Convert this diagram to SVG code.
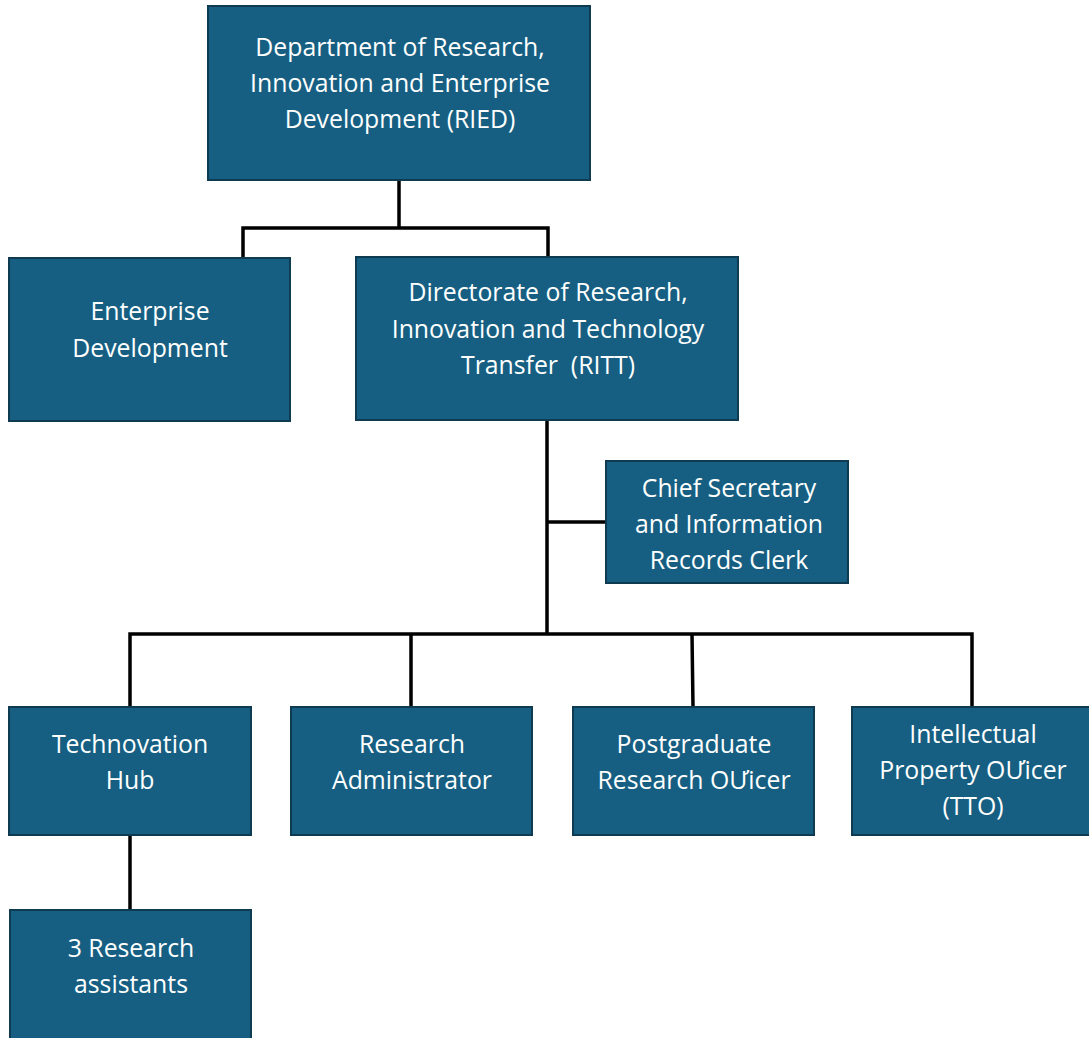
<svg xmlns="http://www.w3.org/2000/svg" width="1089" height="1038" viewBox="0 0 1089 1038">
<style>
.box{fill:#175f82;stroke:#0e3a52;stroke-width:2}
.t{font-family:"Open Sans",Lato,sans-serif;font-size:24.8px;fill:#ffffff;text-anchor:middle;white-space:pre}
.c{stroke:#000;stroke-width:3.5;fill:none}
</style>
<rect width="1089" height="1038" fill="#fff"/>
<g id="connectors">
<path class="c" d="M399 180V228M243 258V228H548V257"/>
<path class="c" d="M547 420V634M547 522H606"/>
<path class="c" d="M130 707V634H972V707M411 634V707M692 634L693 707"/>
<path class="c" d="M130 835V910"/>
</g>
<g id="ried"><rect class="box" x="208" y="6" width="382" height="174"/>
<text class="t"><tspan x="400" y="56">Department of Research,</tspan><tspan x="400" y="92">Innovation and Enterprise</tspan><tspan x="400" y="128">Development (RIED)</tspan></text></g>
<g id="enterprise"><rect class="box" x="9" y="258" width="281" height="163"/>
<text class="t"><tspan x="150" y="320">Enterprise</tspan><tspan x="150" y="357">Development</tspan></text></g>
<g id="ritt"><rect class="box" x="356" y="257" width="382" height="163"/>
<text class="t"><tspan x="548" y="301">Directorate of Research,</tspan><tspan x="548" y="338">Innovation and Technology</tspan><tspan x="548" y="374">Transfer  (RITT)</tspan></text></g>
<g id="chief"><rect class="box" x="606" y="461" width="242" height="122"/>
<text class="t"><tspan x="729" y="497">Chief Secretary</tspan><tspan x="729" y="533">and Information</tspan><tspan x="729" y="569">Records Clerk</tspan></text></g>
<g id="technovation"><rect class="box" x="9" y="707" width="242" height="128"/>
<text class="t"><tspan x="130" y="753">Technovation</tspan><tspan x="130" y="789">Hub</tspan></text></g>
<g id="admin"><rect class="box" x="291" y="707" width="241" height="128"/>
<text class="t"><tspan x="412" y="753">Research</tspan><tspan x="412" y="789">Administrator</tspan></text></g>
<g id="postgrad"><rect class="box" x="573" y="707" width="241" height="128"/>
<text class="t"><tspan x="694" y="753">Postgraduate</tspan><tspan x="694" y="789">Research OƯicer</tspan></text></g>
<g id="ip"><rect class="box" x="852" y="707" width="240" height="128"/>
<text class="t"><tspan x="973" y="743">Intellectual</tspan><tspan x="973" y="779">Property OƯicer</tspan><tspan x="973" y="815">(TTO)</tspan></text></g>
<g id="assistants"><rect class="box" x="10" y="910" width="241" height="135"/>
<text class="t"><tspan x="131" y="957">3 Research</tspan><tspan x="131" y="993">assistants</tspan></text></g>
</svg>
